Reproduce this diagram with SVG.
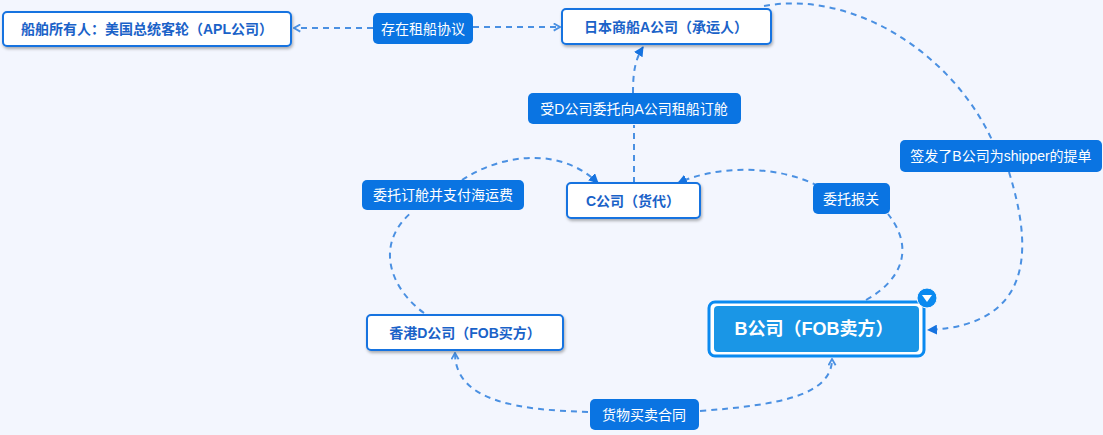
<svg xmlns="http://www.w3.org/2000/svg" width="1103" height="435" viewBox="0 0 1103 435">
<style>
.node rect.box{fill:#ffffff;stroke:#1673e0;stroke-width:2;filter:url(#sh)}
.ntxt{font-family:"Liberation Sans","Noto Sans CJK SC",sans-serif;font-size:14px;font-weight:bold;fill:#1a62c8;text-anchor:middle;dominant-baseline:central}
.lbl rect{fill:#0a74e2}
.ltxt{font-family:"Liberation Sans","Noto Sans CJK SC",sans-serif;font-size:14px;fill:#ffffff;text-anchor:middle;dominant-baseline:central}
.conn path{fill:none;stroke:#4a90e2;stroke-width:2;stroke-dasharray:6 5}
</style>
<defs>
<filter id="sh" x="-10%" y="-30%" width="120%" height="170%">
<feDropShadow dx="1" dy="2" stdDeviation="1.5" flood-color="#000" flood-opacity="0.3"/>
</filter>
<marker id="tri" viewBox="0 0 10 10" refX="9" refY="5" markerWidth="10" markerHeight="10" markerUnits="userSpaceOnUse" orient="auto">
<path d="M0,0 L10,5 L0,10 z" fill="#1673e0"/>
</marker>
<marker id="chev" viewBox="0 0 10 10" refX="9" refY="5" markerWidth="9" markerHeight="9" markerUnits="userSpaceOnUse" orient="auto">
<path d="M2,1 L9,5 L2,9" fill="none" stroke="#4a90e2" stroke-width="2"/>
</marker>
</defs>
<rect x="0" y="0" width="1103" height="435" fill="#f3f6fe"/>

<g id="connectors" class="conn">
<path d="M373,28 L294,28" marker-end="url(#chev)"/>
<path d="M473,27 L560,27" marker-end="url(#chev)"/>
<path d="M634,183 L634,125"/>
<path d="M633,93 C633,72 635,60 643,47" marker-end="url(#tri)"/>
<path d="M424,313 C392,290 372,245 413,211"/>
<path d="M462,180 C505,152 562,148 598,183" marker-end="url(#tri)"/>
<path d="M866,300 C902,280 915,248 888,214"/>
<path d="M818,186 C780,166 720,164 678,183" marker-end="url(#tri)"/>
<path d="M764,6 C850,-10 950,50 992,140"/>
<path d="M1009,172 C1030,240 1040,325 928,330" marker-end="url(#tri)"/>
<path d="M588,412 C520,410 455,402 455,353" marker-end="url(#chev)"/>
<path d="M700,411 C780,405 832,395 832,359" marker-end="url(#chev)"/>
</g>

<g id="node-owner" class="node">
<rect class="box" x="3" y="12" width="288" height="34" rx="4"/>
<text class="ntxt" x="147" y="29">船舶所有人：美国总统客轮（APL公司）</text>
</g>
<g id="node-a" class="node">
<rect class="box" x="562" y="9" width="209" height="35" rx="4"/>
<text class="ntxt" x="666" y="27">日本商船A公司（承运人）</text>
</g>
<g id="node-c" class="node">
<rect class="box" x="567" y="183" width="133" height="35" rx="4"/>
<text class="ntxt" x="633" y="201">C公司（货代）</text>
</g>
<g id="node-d" class="node">
<rect class="box" x="367" y="315" width="196" height="35" rx="4"/>
<text class="ntxt" x="465" y="333">香港D公司（FOB买方）</text>
</g>
<g id="node-b" class="node">
<rect x="709" y="302" width="215" height="54" rx="6" fill="#ffffff" stroke="#0a8af0" stroke-width="3"/>
<rect x="714" y="306" width="205" height="46" rx="4" fill="#1a96e6"/>
<text x="814" y="329" font-family="Liberation Sans,Noto Sans CJK SC,sans-serif" font-size="18" font-weight="bold" fill="#ffffff" text-anchor="middle" dominant-baseline="central">B公司（FOB卖方）</text>
<circle cx="927" cy="298" r="10" fill="#0a8af0" stroke="#f3f6fe" stroke-width="1"/>
<path d="M922,295 L932,295 L927,302 z" fill="#ffffff"/>
</g>

<g id="label-charter" class="lbl">
<rect x="373" y="13" width="100" height="31" rx="5"/>
<text class="ltxt" x="423" y="29">存在租船协议</text>
</g>
<g id="label-book" class="lbl">
<rect x="528" y="93" width="213" height="31" rx="5"/>
<text class="ltxt" x="634" y="109">受D公司委托向A公司租船订舱</text>
</g>
<g id="label-pay" class="lbl">
<rect x="362" y="180" width="162" height="30" rx="5"/>
<text class="ltxt" x="443" y="195">委托订舱并支付海运费</text>
</g>
<g id="label-customs" class="lbl">
<rect x="813" y="183" width="77" height="31" rx="5"/>
<text class="ltxt" x="851" y="199">委托报关</text>
</g>
<g id="label-bl" class="lbl">
<rect x="900" y="140" width="202" height="32" rx="5"/>
<text class="ltxt" x="1001" y="156">签发了B公司为shipper的提单</text>
</g>
<g id="label-contract" class="lbl">
<rect x="590" y="399" width="109" height="31" rx="5"/>
<text class="ltxt" x="644" y="415">货物买卖合同</text>
</g>
</svg>
